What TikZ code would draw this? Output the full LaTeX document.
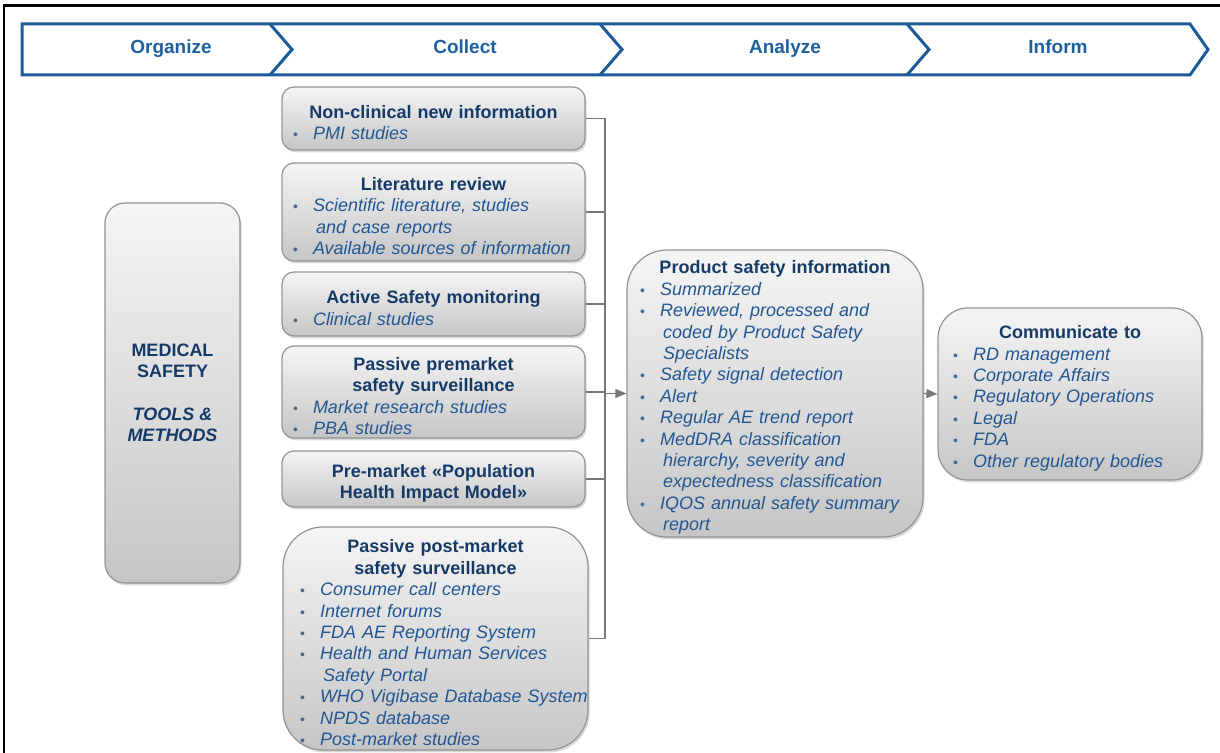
\documentclass[tikz,border=0pt]{standalone}
\usepackage{fontspec}
\setmainfont{Liberation Sans}
\usepackage{xcolor}
\usepackage{tikz}
\usetikzlibrary{shadows,arrows.meta}
\definecolor{bannerblue}{RGB}{28,90,152}
\definecolor{stagetext}{RGB}{30,95,160}
\definecolor{titlenavy}{RGB}{22,58,104}
\definecolor{itemblue}{RGB}{34,86,146}
\definecolor{linkgray}{RGB}{120,120,120}
\newcommand{\boxtitle}[1]{\par{\centering\bfseries\color{titlenavy}#1\par}}
\newcommand{\boxitem}[1]{\par\noindent\makebox[10pt][l]{\color{itemblue!60!gray}\scriptsize\textbullet}\mbox{\itshape #1}}
\newcommand{\boxcont}[1]{\par\noindent\hspace*{11.5pt}\mbox{\itshape #1}}

\begin{document}
\begin{tikzpicture}[x=0.5pt, y=-0.5pt, >={Triangle[length=5.5pt,width=4.5pt]},
  every node/.style={font=\fontsize{9}{10.7}\selectfont},
  card/.style={shade, top color=gray!8, bottom color=gray!45, draw=gray!85, line width=0.6pt,
    drop shadow={opacity=0.3, shadow xshift=0.8pt, shadow yshift=-1.2pt},
    text=itemblue, inner ysep=0pt},
  link/.style={draw=linkgray, line width=0.6pt},
  stage/.style={font=\fontsize{9.5}{11}\selectfont\bfseries, text=stagetext, anchor=base}]
  \useasboundingbox (0,0) rectangle (1220,753);
  \draw[line width=1.4pt] (4,753) -- (4,5.5) -- (1220,5.5);

  \draw[bannerblue, line width=1.5pt, line join=miter] (22,24) -- (1190,24) -- (1208,49.5) -- (1190,75) -- (22,75) -- cycle;
  \foreach \cx in {270,600,907}
    \draw[bannerblue, line width=1.5pt] (\cx,24) -- (\cx+22,49.5) -- (\cx,75);
  \node[stage] (organize) at (171,54) {Organize};
  \node[stage] (collect) at (465,54) {Collect};
  \node[stage] (analyze) at (785,54) {Analyze};
  \node[stage] (inform) at (1058,54) {Inform};

  \node[card, rounded corners=10pt, minimum width=67.5pt, minimum height=190pt, align=center,
    text=titlenavy, font=\fontsize{9}{10.7}\selectfont\bfseries] (medsafety) at (172.5,393)
    {MEDICAL\\SAFETY\\[10.7pt]\textit{TOOLS \&}\\\textit{METHODS}};

  \node[card, rounded corners=6pt, text width=140.5pt, inner xsep=5.5pt, minimum height=31.5pt] (nonclin) at (433.5,118.5)
    {\boxtitle{Non-clinical new information}\boxitem{PMI studies}};
  \node[card, rounded corners=6pt, text width=140.5pt, inner xsep=5.5pt, minimum height=49pt] (litrev) at (433.5,212)
    {\boxtitle{Literature review}\boxitem{Scientific literature, studies}\boxcont{and case reports}\boxitem{Available sources of information}};
  \node[card, rounded corners=6pt, text width=140.5pt, inner xsep=5.5pt, minimum height=32pt] (actmon) at (433.5,304)
    {\boxtitle{Active Safety monitoring}\boxitem{Clinical studies}};
  \node[card, rounded corners=6pt, text width=140.5pt, inner xsep=5.5pt, minimum height=46pt] (passpre) at (433.5,392)
    {\boxtitle{Passive premarket\\safety surveillance}\boxitem{Market research studies}\boxitem{PBA studies}};
  \node[card, rounded corners=6pt, text width=140.5pt, inner xsep=5.5pt, minimum height=28pt] (popmodel) at (433.5,479)
    {\boxtitle{Pre-market «Population\\Health Impact Model»}};
  \node[card, rounded corners=20pt, text width=135.5pt, inner xsep=8.5pt, minimum height=111.5pt] (passpost) at (435.5,638.5)
    {\boxtitle{Passive post-market\\safety surveillance}\boxitem{Consumer call centers}\boxitem{Internet forums}\boxitem{FDA AE Reporting System}\boxitem{Health and Human Services}\boxcont{Safety Portal}\boxitem{WHO Vigibase Database System}\boxitem{NPDS database}\boxitem{Post-market studies}};

  \node[card, rounded corners=20pt, text width=135pt, inner xsep=6.5pt, minimum height=143.5pt] (prodinfo) at (775,393.5)
    {\boxtitle{Product safety information}\boxitem{Summarized}\boxitem{Reviewed, processed and}\boxcont{coded by Product Safety}\boxcont{Specialists}\boxitem{Safety signal detection}\boxitem{Alert}\boxitem{Regular AE trend report}\boxitem{MedDRA classification}\boxcont{hierarchy, severity and}\boxcont{expectedness classification}\boxitem{IQOS annual safety summary}\boxcont{report}};
  \node[card, rounded corners=15pt, text width=117pt, inner xsep=7.5pt, minimum height=86pt] (commto) at (1070,394)
    {\boxtitle{Communicate to}\boxitem{RD management}\boxitem{Corporate Affairs}\boxitem{Regulatory Operations}\boxitem{Legal}\boxitem{FDA}\boxitem{Other regulatory bodies}};

  \coordinate (bus) at (605,118.5);
  \foreach \b in {nonclin,litrev,actmon,passpre,popmodel,passpost}
    \draw[link] (\b.east) -- (\b.east -| bus);
  \draw[link] (nonclin.east -| bus) -- (passpost.east -| bus);
  \draw[link, ->] (prodinfo.west -| bus) -- (prodinfo.west);
  \draw[link, ->] (prodinfo.east) -- (commto.west);
\end{tikzpicture}
\end{document}
